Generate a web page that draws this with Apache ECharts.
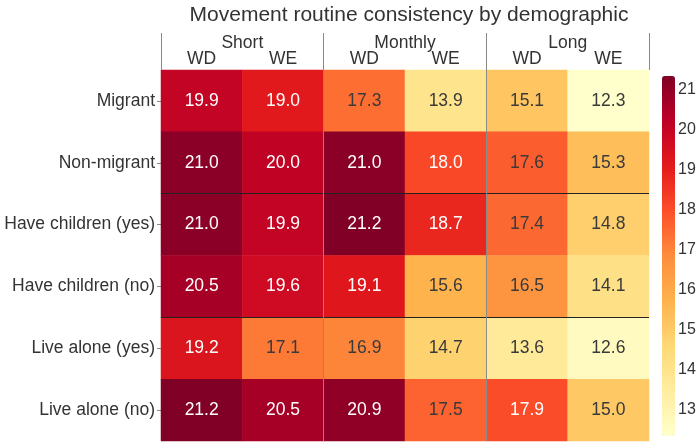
<!DOCTYPE html>
<html>
<head>
<meta charset="utf-8">
<script src="https://cdn.jsdelivr.net/npm/echarts@6/dist/echarts.min.js"></script>
<style>html,body{margin:0;padding:0;background:#fff;}#c{width:700px;height:445px;}</style>
</head>
<body>
<div id="c"></div>
<script>
const rowLabels = ['Migrant', 'Non-migrant', 'Have children (yes)', 'Have children (no)', 'Live alone (yes)', 'Live alone (no)'];
const groupLabels = ['Short', 'Monthly', 'Long'];
const colLabels = ['WD', 'WE', 'WD', 'WE', 'WD', 'WE'];
const rowGroups = ['Migration', 'Children', 'Living'];
const migrant = [19.9, 19.0, 17.3, 13.9, 15.1, 12.3];
const nonMigrant = [21.0, 20.0, 21.0, 18.0, 17.6, 15.3];
const childrenYes = [21.0, 19.9, 21.2, 18.7, 17.4, 14.8];
const childrenNo = [20.5, 19.6, 19.1, 15.6, 16.5, 14.1];
const aloneYes = [19.2, 17.1, 16.9, 14.7, 13.6, 12.6];
const aloneNo = [21.2, 20.5, 20.9, 17.5, 17.9, 15.0];
const colorbarTicks = [13, 14, 15, 16, 17, 18, 19, 20, 21];

const rows = [migrant, nonMigrant, childrenYes, childrenNo, aloneYes, aloneNo];
const vMin = 12.3, vMax = 21.2;
const FONT = '"Liberation Sans", Arial, Helvetica, sans-serif';
const TXT = '#333333';
const FS = 17.5;

const data = [];
rows.forEach((r, yi) => r.forEach((v, xi) => {
  data.push({ value: [xi, yi, v], label: { color: v >= 17.7 ? '#ffffff' : '#3a3a3a' } });
}));

const chart = echarts.init(document.getElementById('c'), null, { renderer: 'canvas' });
chart.setOption({
  animation: false,
  backgroundColor: '#ffffff',
  textStyle: { fontFamily: FONT },
  title: {
    text: 'Movement routine consistency by demographic',
    left: 404, top: 0, textAlign: 'center',
    textStyle: { fontSize: 21, fontWeight: 'normal', color: TXT, fontFamily: FONT }
  },
  grid: [
    { left: 161, width: 488, top: 70, height: 371 },
    { left: 662, width: 13, top: 82, height: 356 }
  ],
  xAxis: [
    {
      type: 'category', gridIndex: 0, position: 'top', data: colLabels,
      axisLine: { show: false }, axisTick: { show: false }, splitLine: { show: false },
      axisLabel: { margin: 2, fontSize: FS, color: TXT, fontFamily: FONT, interval: 0 }
    },
    {
      type: 'category', gridIndex: 0, position: 'top', data: groupLabels, z: 10,
      axisLine: { show: false },
      axisTick: { show: true, length: 37, lineStyle: { color: '#8a8a8a', width: 1 } },
      splitLine: { show: true, showMinLine: false, showMaxLine: false, lineStyle: { color: '#8a8a8a', width: 1 } },
      axisLabel: { margin: 18, fontSize: FS, color: TXT, fontFamily: FONT, interval: 0 }
    },
    { type: 'value', gridIndex: 1, show: false, min: 0, max: 1 }
  ],
  yAxis: [
    {
      type: 'category', gridIndex: 0, inverse: true, data: rowLabels,
      axisLine: { show: false },
      axisTick: { show: true, length: 4, alignWithLabel: true, lineStyle: { color: '#8a8a8a' } },
      splitLine: { show: false },
      axisLabel: { margin: 6, fontSize: FS, color: TXT, fontFamily: FONT }
    },
    {
      type: 'category', gridIndex: 0, inverse: true, data: rowGroups, z: 10,
      axisLine: { show: false }, axisTick: { show: false }, axisLabel: { show: false },
      splitLine: { show: true, showMinLine: false, showMaxLine: false, lineStyle: { color: '#222222', width: 1 } }
    },
    {
      type: 'value', gridIndex: 1, position: 'right', min: vMin, max: vMax,
      axisLine: { show: false }, axisTick: { show: false }, splitLine: { show: false },
      axisLabel: { customValues: colorbarTicks, margin: 3, fontSize: 16, color: TXT, fontFamily: FONT }
    }
  ],
  visualMap: {
    type: 'continuous', min: vMin, max: vMax, seriesIndex: 0,
    left: 662, top: 76, itemWidth: 13, itemHeight: 360, padding: 0,
    calculable: false, text: null, hoverLink: false,
    inRange: { color: ['#ffffcc', '#ffeda0', '#fed976', '#feb24c', '#fd8d3c', '#fc4e2a', '#e31a1c', '#bd0026', '#800026'] }
  },
  series: [{
    type: 'heatmap', xAxisIndex: 0, yAxisIndex: 0, data: data,
    itemStyle: { borderWidth: 0 },
    label: { show: true, fontSize: FS, fontFamily: FONT, formatter: p => p.value[2].toFixed(1) },
    emphasis: { disabled: true }
  }]
});
</script>
</body>
</html>
